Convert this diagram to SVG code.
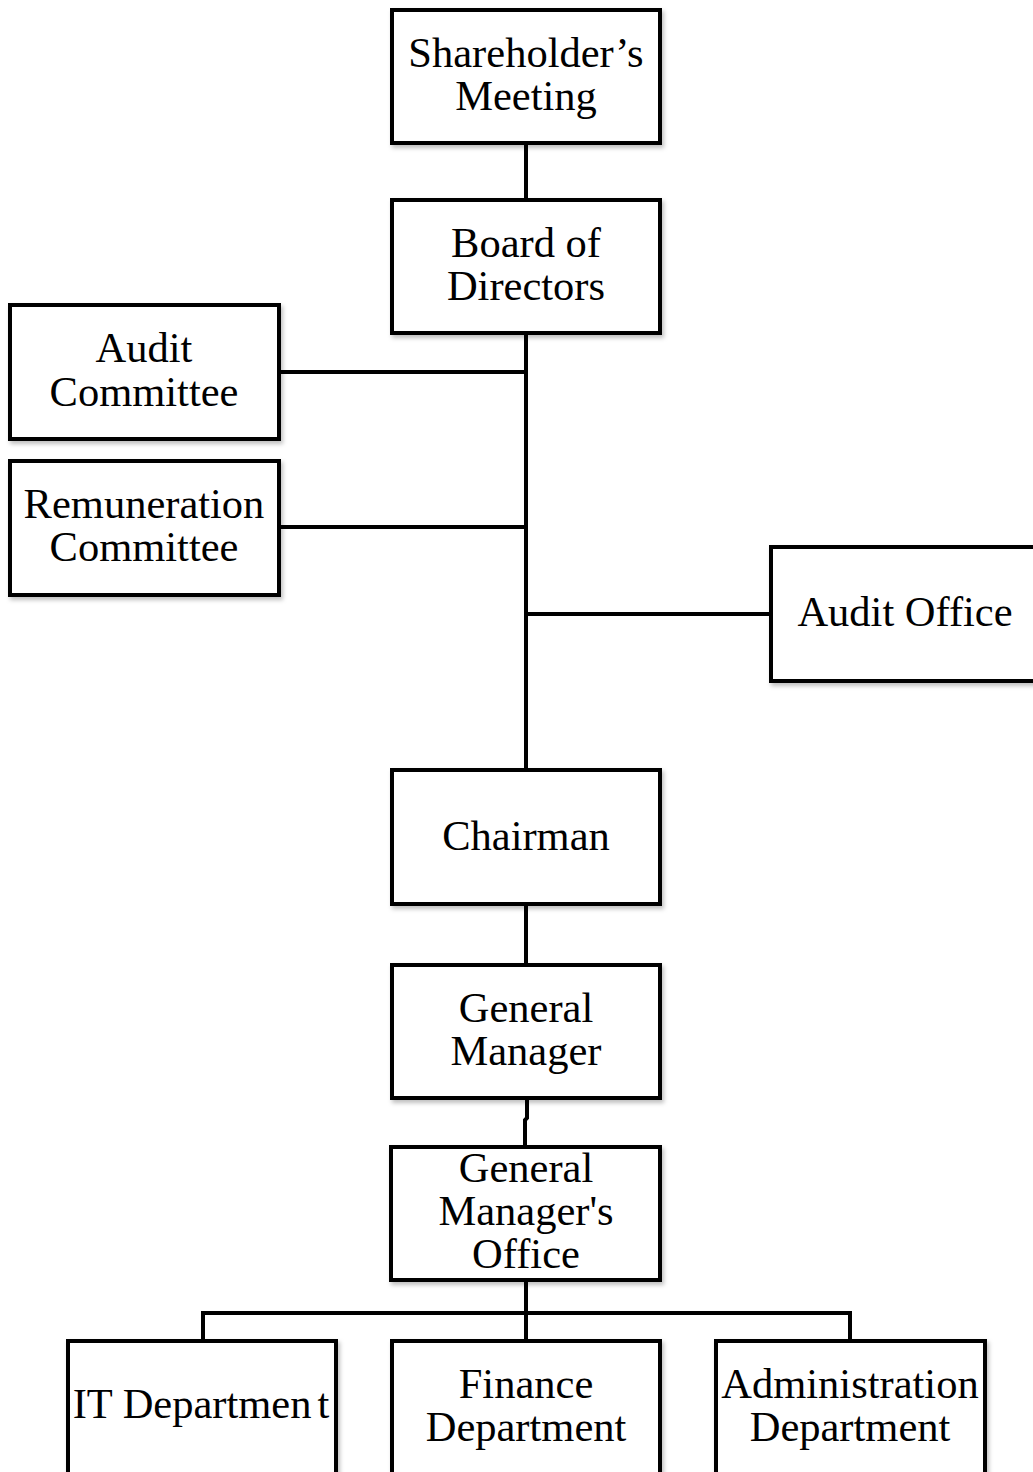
<svg xmlns="http://www.w3.org/2000/svg" width="1033" height="1472" viewBox="0 0 1033 1472">
<defs>
<filter id="sh" x="-10%" y="-10%" width="130%" height="130%">
<feDropShadow dx="2" dy="3" stdDeviation="2" flood-color="#000" flood-opacity="0.25"/>
</filter>
<style>
.box{fill:#fff;stroke:#000;stroke-width:4;filter:url(#sh)}
.t{font-family:"Liberation Serif","Times New Roman",serif;font-size:42.5px;fill:#000;text-anchor:middle}
.c{fill:none;stroke:#000;stroke-width:4}
</style>
</defs>
<rect width="1033" height="1472" fill="#fff"/>
<g id="connectors">
<path class="c" d="M526 143V200"/>
<path class="c" d="M526 333V770"/>
<path class="c" d="M279 372H526"/>
<path class="c" d="M279 527H526"/>
<path class="c" d="M526 614H771"/>
<path class="c" d="M526 904V965"/>
<path class="c" d="M527 1098V1118L525 1120V1147"/>
<path class="c" d="M526 1280V1341"/>
<path class="c" d="M203 1341V1313H850V1341"/>
</g>
<g id="shareholders">
<rect class="box" x="392" y="10" width="268" height="133"/>
<text class="t" x="526" y="67">Shareholder’s</text>
<text class="t" x="526" y="110">Meeting</text>
</g>
<g id="board">
<rect class="box" x="392" y="200" width="268" height="133"/>
<text class="t" x="526" y="257">Board of</text>
<text class="t" x="526" y="300">Directors</text>
</g>
<g id="audit-committee">
<rect class="box" x="10" y="305" width="269" height="134"/>
<text class="t" x="144" y="362">Audit</text>
<text class="t" x="144" y="406">Committee</text>
</g>
<g id="remuneration-committee">
<rect class="box" x="10" y="461" width="269" height="134"/>
<text class="t" x="144" y="518">Remuneration</text>
<text class="t" x="144" y="561">Committee</text>
</g>
<g id="audit-office">
<rect class="box" x="771" y="547" width="268" height="134"/>
<text class="t" x="905" y="626">Audit Office</text>
</g>
<g id="chairman">
<rect class="box" x="392" y="770" width="268" height="134"/>
<text class="t" x="526" y="850">Chairman</text>
</g>
<g id="general-manager">
<rect class="box" x="392" y="965" width="268" height="133"/>
<text class="t" x="526" y="1022">General</text>
<text class="t" x="526" y="1065">Manager</text>
</g>
<g id="gm-office">
<rect class="box" x="391" y="1147" width="269" height="133"/>
<text class="t" x="526" y="1182">General</text>
<text class="t" x="526" y="1225">Manager's</text>
<text class="t" x="526" y="1268">Office</text>
</g>
<g id="it-department">
<rect class="box" x="68" y="1341" width="268" height="150"/>
<text class="t" x="201" y="1418">IT Departmen<tspan dx="6">t</tspan></text>
</g>
<g id="finance-department">
<rect class="box" x="392" y="1341" width="268" height="150"/>
<text class="t" x="526" y="1398">Finance</text>
<text class="t" x="526" y="1441">Department</text>
</g>
<g id="administration-department">
<rect class="box" x="716" y="1341" width="269" height="150"/>
<text class="t" x="850" y="1398">Administration</text>
<text class="t" x="850" y="1441">Department</text>
</g>
</svg>
